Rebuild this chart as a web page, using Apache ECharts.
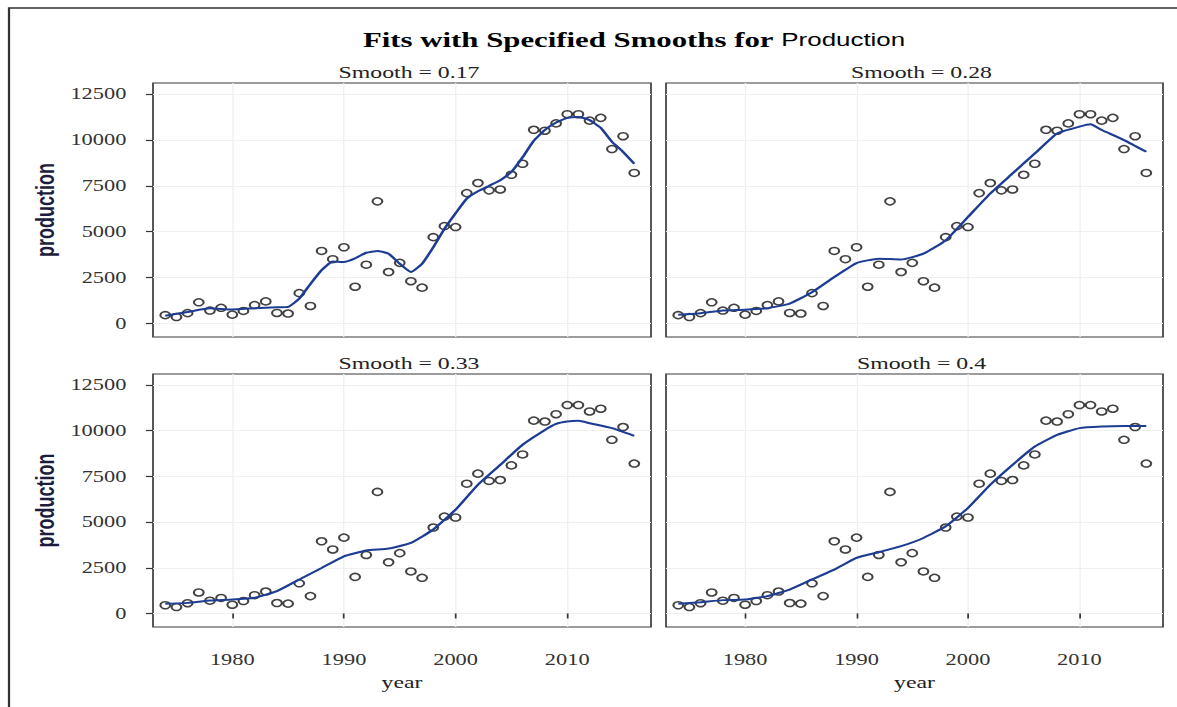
<!DOCTYPE html>
<html><head><meta charset="utf-8">
<script src="https://cdn.jsdelivr.net/npm/echarts@6/dist/echarts.min.js"></script>
<style>
html,body{margin:0;padding:0;background:#fff;overflow:hidden}
#wrap{width:1177px;height:707px;overflow:hidden;position:relative;background:#fff}
#chart{position:absolute;left:0;top:0;height:707px;transform-origin:0 0}
</style></head><body><div id="wrap"><div id="chart"></div></div>
<script>
// ---------------- data ----------------
const years = [1974,1975,1976,1977,1978,1979,1980,1981,1982,1983,1984,1985,1986,1987,1988,1989,1990,1991,1992,1993,1994,1995,1996,1997,1998,1999,2000,2001,2002,2003,2004,2005,2006,2007,2008,2009,2010,2011,2012,2013,2014,2015,2016];
const production = [450,350,560,1150,700,850,480,680,1000,1200,570,540,1650,950,3950,3500,4150,2000,3200,6650,2800,3300,2300,1950,4700,5300,5250,7100,7650,7250,7300,8100,8700,10550,10500,10900,11400,11400,11050,11200,9500,10200,8200];

const panelTitles = ['Smooth = 0.17','Smooth = 0.28','Smooth = 0.33','Smooth = 0.4'];

const fitYears017 = [1974,1976,1978,1980,1982,1984,1985,1986,1987,1988,1989,1990,1991,1992,1993,1994,1995,1996,1997,1998,1999,2000,2001,2002,2003,2004,2005,2006,2007,2008,2009,2010,2011,2012,2013,2014,2015,2016];
const fit017 = [420,620,820,760,830,880,900,1350,2150,2900,3380,3350,3550,3850,3950,3800,3250,2800,3250,4150,5150,6000,6800,7200,7500,7800,8250,9050,9950,10550,10950,11200,11250,11080,10650,9900,9350,8700];

const fitYears028 = [1974,1976,1978,1980,1982,1984,1986,1988,1990,1992,1994,1996,1998,2000,2002,2004,2006,2008,2010,2011,2012,2014,2016];
const fit028 = [470,560,710,750,830,1080,1700,2530,3290,3530,3480,3800,4530,5800,7080,8170,9260,10350,10720,10850,10540,9990,9350];

const fitYears033 = [1974,1976,1978,1980,1982,1984,1986,1988,1990,1992,1994,1996,1998,2000,2002,2004,2006,2008,2009,2010,2011,2012,2014,2016];
const fit033 = [530,580,710,760,860,1220,1860,2490,3130,3440,3550,3860,4590,5680,7040,8130,9230,10040,10370,10500,10540,10410,10140,9720];

const fitYears040 = [1974,1976,1978,1980,1982,1984,1986,1988,1990,1992,1994,1996,1998,2000,2002,2004,2006,2008,2010,2012,2014,2016];
const fit040 = [530,620,730,760,950,1310,1860,2400,3040,3350,3680,4130,4770,5770,7040,8130,9130,9770,10140,10230,10260,10260];

const yTicks = [0,2500,5000,7500,10000,12500];
const xTicks = [1980,1990,2000,2010];

// ---------------- layout ----------------
const S = 1.4; // horizontal stretch of the reference image
const W = 1177 / S;
const el = document.getElementById('chart');
el.style.width = W + 'px';
el.style.transform = 'scaleX(' + S + ')';

const SERIF = 'Liberation Serif, Times New Roman, serif';
const SANS = 'Liberation Sans, Arial, sans-serif';

const panels = [
  {l:153, r:651, t:83,  b:337, fx:fitYears017, fy:fit017, bottom:false, left:true},
  {l:666, r:1163,t:83,  b:337, fx:fitYears028, fy:fit028, bottom:false, left:false},
  {l:153, r:651, t:374, b:627, fx:fitYears033, fy:fit033, bottom:true,  left:true},
  {l:666, r:1163,t:374, b:627, fx:fitYears040, fy:fit040, bottom:true,  left:false}
];

const grids = [], xAxes = [], yAxes = [], series = [], titles = [];
titles.push({
  text: '{a|Fits with Specified Smooths for }{b|Production}',
  left: 356 / S, top: 24,
  textStyle: { rich: {
    a: {fontFamily: SERIF, fontWeight: 'bold', fontSize: 22, color: '#000'},
    b: {fontFamily: SANS, fontWeight: 'normal', fontSize: 18.5, color: '#000'}
  }}
});

panels.forEach((p, i) => {
  grids.push({left: p.l / S, top: p.t, width: (p.r - p.l) / S, height: p.b - p.t,
    show: true, borderColor: '#3a3a3a', borderWidth: 1.2, backgroundColor: 'transparent', containLabel: false});
  titles.push({text: panelTitles[i], left: ((p.l + p.r) / 2) / S, top: p.t - 24, textAlign: 'center',
    textStyle: {fontFamily: SERIF, fontWeight: 'normal', fontSize: 17, color: '#222'}});
  xAxes.push({
    type: 'value', gridIndex: i, min: 1972.9, max: 2017.5,
    name: p.bottom ? 'year' : '', nameLocation: 'middle', nameGap: 47,
    nameTextStyle: {fontFamily: SERIF, fontSize: 17, color: '#222'},
    axisLine: {show: false},
    axisTick: {show: p.bottom, length: 5, customValues: xTicks, lineStyle: {color: '#333', width: 1.2}},
    axisLabel: {show: p.bottom, customValues: xTicks, margin: 25, fontFamily: SERIF, fontSize: 16, color: '#333',
      formatter: v => String(v)},
    splitLine: {show: true, lineStyle: {color: '#f0f0f0', width: 1}}
  });
  yAxes.push({
    type: 'value', gridIndex: i, min: -740, max: 13100,
    name: p.left ? 'production' : '', nameLocation: 'middle', nameGap: 68,
    nameTextStyle: {fontFamily: SANS, fontWeight: 'bold', fontSize: 18, color: '#1c1c3c'},
    axisLine: {show: false},
    axisTick: {show: p.left, length: 5, customValues: yTicks, lineStyle: {color: '#333', width: 1.2}},
    axisLabel: {show: p.left, customValues: yTicks, margin: 19, fontFamily: SERIF, fontSize: 16, color: '#333',
      formatter: v => String(v)},
    splitLine: {show: true, lineStyle: {color: '#f0f0f0', width: 1}}
  });
  series.push({
    type: 'scatter', xAxisIndex: i, yAxisIndex: i, z: 2,
    data: years.map((y, k) => [y, production[k]]),
    symbol: 'circle', symbolSize: 7,
    itemStyle: {color: 'rgba(255,255,255,0)', borderColor: '#111', borderWidth: 1.5}
  });
  series.push({
    type: 'line', xAxisIndex: i, yAxisIndex: i, z: 3,
    data: p.fx.map((y, k) => [y, p.fy[k]]),
    showSymbol: false, smooth: 0.15,
    lineStyle: {color: '#1d3c93', width: 2}
  });
});

const chart = echarts.init(el, null, {renderer: 'svg', width: W, height: 707});
chart.setOption({
  animation: false,
  backgroundColor: '#fff',
  title: titles,
  grid: grids,
  xAxis: xAxes,
  yAxis: yAxes,
  series: series,
  graphic: [{
    type: 'polyline', silent: true,
    shape: {points: [[9 / S, 707], [9 / S, 8], [W, 8]]},
    style: {stroke: '#333', lineWidth: 1.6, fill: null}
  }]
});
</script></body></html>
